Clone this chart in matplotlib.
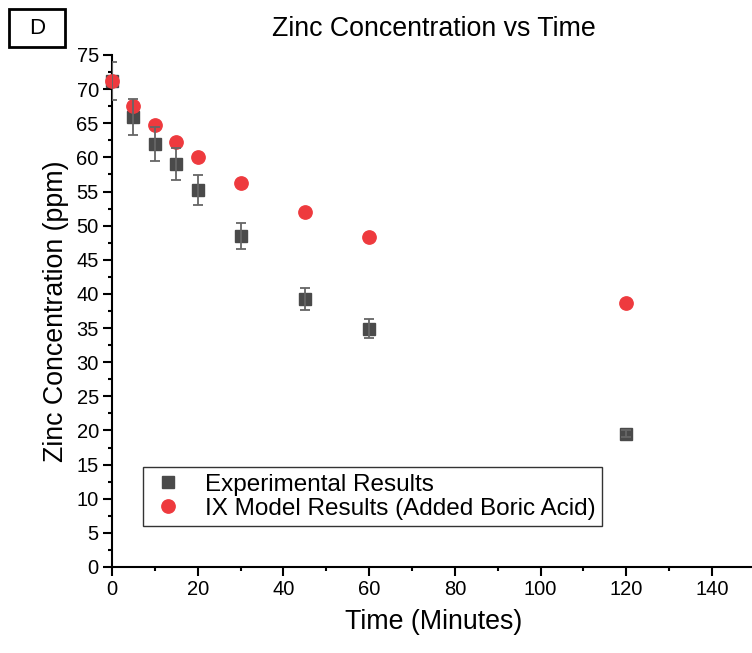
import matplotlib
matplotlib.use("Agg")
import matplotlib.pyplot as plt
from matplotlib.patches import Rectangle
from matplotlib.ticker import MultipleLocator

plt.rcParams['font.family'] = ['Liberation Sans', 'DejaVu Sans']

# Sampling times (minutes)
time_exp = [0, 5, 10, 15, 20, 30, 45, 60, 120]
# Measured zinc concentration (ppm) with standard deviation
zinc_exp = [71.2, 65.9, 62.0, 59.0, 55.2, 48.5, 39.2, 34.9, 19.5]
zinc_err = [2.8, 2.65, 2.5, 2.35, 2.2, 1.9, 1.6, 1.4, 0.5]

# IX model predictions with added boric acid
time_model = [0, 5, 10, 15, 20, 30, 45, 60, 120]
zinc_model = [71.2, 67.5, 64.7, 62.3, 60.1, 56.3, 52.0, 48.3, 38.6]

fig = plt.figure(figsize=(7.52, 6.53), dpi=100)
ax = fig.add_axes([0.1489, 0.1317, 0.855, 0.7841])

sq_color = '#4a4a4a'
red_color = '#ee3a3e'

ax.plot(time_exp, zinc_exp, linestyle='none', marker='s', markersize=8.8,
        color=sq_color, label='Experimental Results', zorder=3, clip_on=False)
ax.plot(time_model, zinc_model, linestyle='none', marker='o', markersize=9.6,
        color=red_color, label='IX Model Results (Added Boric Acid)', zorder=4,
        clip_on=False)
ax.errorbar(time_exp, zinc_exp, yerr=zinc_err, fmt='none', ecolor='#666666',
            elinewidth=1.3, capsize=3.6, capthick=1.3, zorder=5)

ax.set_xlim(0, 150)
ax.set_ylim(0, 75)
ax.xaxis.set_major_locator(MultipleLocator(20))
ax.xaxis.set_minor_locator(MultipleLocator(10))
ax.yaxis.set_major_locator(MultipleLocator(5))
ax.yaxis.set_minor_locator(MultipleLocator(2.5))

for side in ('top', 'right'):
    ax.spines[side].set_visible(False)
for side in ('left', 'bottom'):
    ax.spines[side].set_linewidth(1.5)

ax.tick_params(which='major', direction='out', length=6.5, width=1.5,
               labelsize=14.5, pad=3)
ax.tick_params(which='minor', direction='out', length=3.2, width=1.5)

ax.set_xlabel('Time (Minutes)', fontsize=19.3, labelpad=7)
ax.set_ylabel('Zinc Concentration (ppm)', fontsize=19.3, labelpad=5)
ax.set_title('Zinc Concentration vs Time', fontsize=19.3, pad=14)

leg = ax.legend(loc='lower left', bbox_to_anchor=(0.048, 0.080),
                fontsize=17.5, frameon=True, fancybox=False, borderpad=0.25,
                handletextpad=0.7, handlelength=1.6, labelspacing=0.1,
                borderaxespad=0)
leg.get_frame().set_edgecolor('black')
leg.get_frame().set_linewidth(1.0)

# Panel letter in a framed box
W, H = 752, 653
fig.patches.append(Rectangle((9 / W, 1 - 47 / H), 56 / W, 38 / H,
                             transform=fig.transFigure, facecolor='white',
                             edgecolor='black', linewidth=2.0))
fig.text(37 / W, 1 - 28.5 / H, 'D', fontsize=16, ha='center', va='center')

fig.savefig('out.png', dpi=100)
